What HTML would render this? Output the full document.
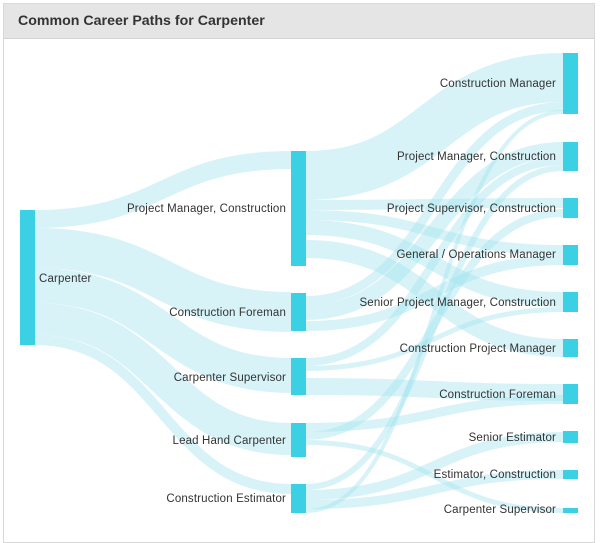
<!DOCTYPE html>
<html><head><style>
body{margin:0;width:600px;height:539px;background:#fff;font-family:"Liberation Sans",sans-serif;overflow:hidden}
.card{position:absolute;left:3px;top:3px;width:592px;height:540px;border:1px solid #d8d8d8;box-sizing:border-box}
.hdr{height:34px;background:#e5e5e5;border-bottom:1px solid #d4d4d4;font-weight:bold;font-size:14.2px;color:#333;line-height:34px;padding-left:14px}
svg{position:absolute;left:0;top:0}
text{font-family:"Liberation Sans",sans-serif;font-size:11.5px;letter-spacing:0.15px;fill:#333}
</style></head><body>
<div class="card"><div class="hdr">Common Career Paths for Carpenter</div></div>
<svg width="600" height="539">
<g fill="none" stroke="#9fe3ee" stroke-opacity="0.42">
<path d="M35 219C163 219 163 160 291 160" stroke-width="18"/>
<path d="M35 248C163 248 163 312 291 312" stroke-width="40"/>
<path d="M35 285.5C163 285.5 163 375.5 291 375.5" stroke-width="35"/>
<path d="M35 319C163 319 163 439 291 439" stroke-width="32"/>
<path d="M35 340C163 340 163 489 291 489" stroke-width="10"/>
<path d="M306 175.5C434 175.5 434 77.5 563 77.5" stroke-width="49"/>
<path d="M306 205C434 205 434 203 563 203" stroke-width="10"/>
<path d="M306 215C434 215 434 250 563 250" stroke-width="10"/>
<path d="M306 227.5C434 227.5 434 299.5 563 299.5" stroke-width="15"/>
<path d="M306 249C434 249 434 348 563 348" stroke-width="18"/>
<path d="M306 300.5C434 300.5 434 106.5 563 106.5" stroke-width="9"/>
<path d="M306 312.5C434 312.5 434 149.5 563 149.5" stroke-width="15"/>
<path d="M306 326C434 326 434 260 563 260" stroke-width="10"/>
<path d="M306 362C434 362 434 161 563 161" stroke-width="8"/>
<path d="M306 368.5C434 368.5 434 309.5 563 309.5" stroke-width="5"/>
<path d="M306 386.5C434 386.5 434 392.5 563 392.5" stroke-width="17"/>
<path d="M306 427.5C434 427.5 434 399.5 563 399.5" stroke-width="9"/>
<path d="M306 436C434 436 434 213 563 213" stroke-width="8"/>
<path d="M306 442.5C434 442.5 434 510.5 563 510.5" stroke-width="5"/>
<path d="M306 487C434 487 434 168 563 168" stroke-width="6"/>
<path d="M306 495C434 495 434 437 563 437" stroke-width="10"/>
<path d="M306 504.5C434 504.5 434 474.5 563 474.5" stroke-width="9"/>
<path d="M306 511C434 511 434 112 563 112" stroke-width="4"/>
</g>
<g fill="#3bd0e3">
<rect x="20" y="210" width="15" height="135"/>
<rect x="291" y="151" width="15" height="115"/>
<rect x="291" y="293" width="15" height="38"/>
<rect x="291" y="358" width="15" height="37"/>
<rect x="291" y="423" width="15" height="34"/>
<rect x="291" y="484" width="15" height="29"/>
<rect x="563" y="53" width="15" height="61"/>
<rect x="563" y="142" width="15" height="29"/>
<rect x="563" y="198" width="15" height="20"/>
<rect x="563" y="245" width="15" height="20"/>
<rect x="563" y="292" width="15" height="20"/>
<rect x="563" y="339" width="15" height="18"/>
<rect x="563" y="384" width="15" height="20"/>
<rect x="563" y="431" width="15" height="12"/>
<rect x="563" y="470" width="15" height="9"/>
<rect x="563" y="508" width="15" height="5"/>
</g>
<text x="39" y="282">Carpenter</text>
<g text-anchor="end">
<text x="286" y="212">Project Manager, Construction</text>
<text x="286" y="316">Construction Foreman</text>
<text x="286" y="381">Carpenter Supervisor</text>
<text x="286" y="444">Lead Hand Carpenter</text>
<text x="286" y="502">Construction Estimator</text>
<text x="556" y="87">Construction Manager</text>
<text x="556" y="160">Project Manager, Construction</text>
<text x="556" y="212">Project Supervisor, Construction</text>
<text x="556" y="258">General / Operations Manager</text>
<text x="556" y="306">Senior Project Manager, Construction</text>
<text x="556" y="352">Construction Project Manager</text>
<text x="556" y="398">Construction Foreman</text>
<text x="556" y="441">Senior Estimator</text>
<text x="556" y="478">Estimator, Construction</text>
<text x="556" y="513">Carpenter Supervisor</text>
</g>
</svg>
</body></html>
